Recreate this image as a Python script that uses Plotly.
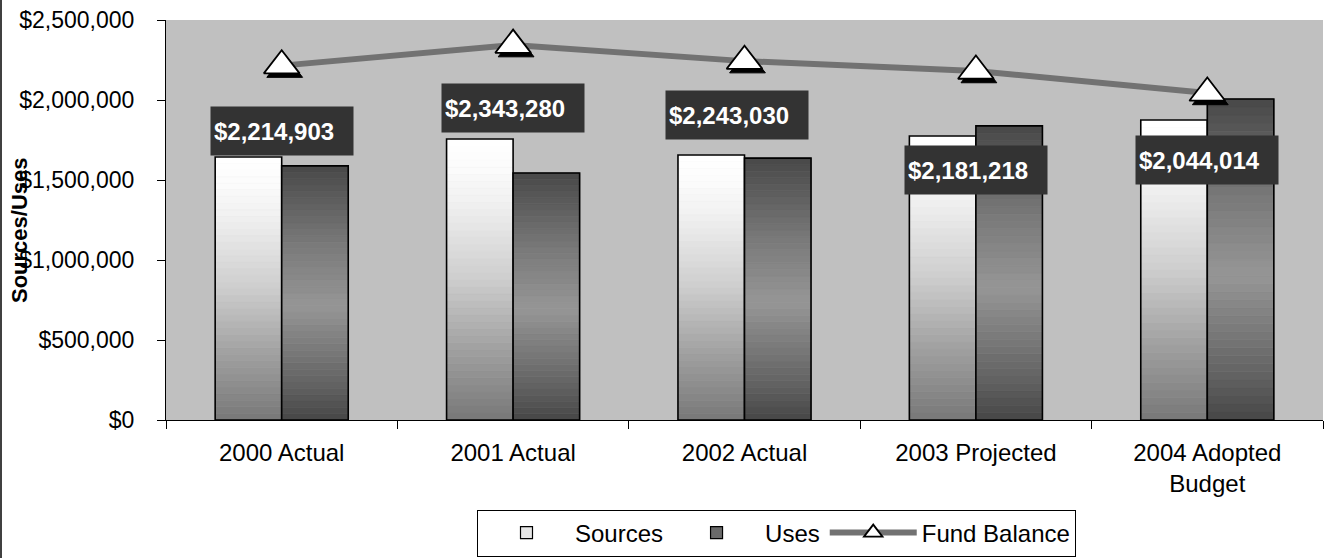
import plotly.graph_objects as go

# ---- data -------------------------------------------------------------
categories = ["2000 Actual", "2001 Actual", "2002 Actual", "2003 Projected", "2004 Adopted<br>Budget"]
sources = [1644000, 1756000, 1656000, 1775000, 1875000]
uses = [1588000, 1544000, 1637000, 1838000, 2006000]
fund_balance = [2214903, 2343280, 2243030, 2181218, 2044014]

# vertical pixel offset of each fund-balance label box below its marker
label_dy = [-65, -63, -54, -99, -67]
label_dx = [0, 0, -8, 0, 0]

FONT = "Liberation Sans, Arial, sans-serif"
N_SEG = 40
Y_MAX = 2500000

L, R, T, B = 166, 2, 20, 138
PW, PH = 1325 - L - R, 558 - T - B

# gradient stops (fraction of bar height from the bottom, grey level)
src_stops = [(0.0, 120), (0.25, 160), (0.5, 205), (0.75, 238), (0.9, 252), (1.0, 255)]
use_stops = [(0.0, 70), (0.12, 95), (0.45, 150), (0.7, 120), (1.0, 72)]


def grey_at(stops, f):
    for (f0, g0), (f1, g1) in zip(stops[:-1], stops[1:]):
        if f0 <= f <= f1:
            t = (f - f0) / (f1 - f0) if f1 > f0 else 0
            g = round(g0 + (g1 - g0) * t)
            return f"rgb({g},{g},{g})"
    g = stops[-1][1]
    return f"rgb({g},{g},{g})"


fig = go.Figure()


def gradient_bars(values, stops, group):
    # stack thin slices of each bar, each slice shaded by its height fraction
    for i in range(N_SEG):
        f = (i + 0.5) / N_SEG
        col = grey_at(stops, f)
        fig.add_trace(go.Bar(
            x=categories,
            y=[v / N_SEG for v in values],
            base=[v * i / N_SEG for v in values],
            offsetgroup=group,
            marker=dict(color=col, line=dict(color=col, width=0.6)),
            showlegend=False,
            hoverinfo="skip",
        ))
    # black outline of the full bar
    fig.add_trace(go.Bar(
        x=categories,
        y=values,
        offsetgroup=group,
        marker=dict(color="rgba(0,0,0,0)", line=dict(color="black", width=1.6)),
        showlegend=False,
        hoverinfo="skip",
    ))


gradient_bars(sources, src_stops, "a_sources")
gradient_bars(uses, use_stops, "b_uses")

# legend entries for the two bar series
fig.add_trace(go.Bar(
    x=categories, y=[None] * len(categories), offsetgroup="a_sources",
    name="Sources", marker=dict(color="#e6e6e6", line=dict(color="black", width=1.2)),
))
fig.add_trace(go.Bar(
    x=categories, y=[None] * len(categories), offsetgroup="b_uses",
    name="Uses", marker=dict(color="#6a6a6a", line=dict(color="black", width=1.2)),
))

# drop shadow of the triangle markers: same points on axes nudged a few px
SHADOW_DX, SHADOW_DY = 3, 4
fig.add_trace(go.Scatter(
    x=categories, y=fund_balance, xaxis="x2", yaxis="y2",
    mode="markers", showlegend=False, hoverinfo="skip",
    marker=dict(symbol="triangle-up", size=31, color="black",
                line=dict(color="black", width=1)),
))

fig.add_trace(go.Scatter(
    x=categories,
    y=fund_balance,
    xaxis="x3", yaxis="y3",
    name="Fund Balance",
    mode="lines+markers",
    line=dict(color="#727272", width=6),
    marker=dict(symbol="triangle-up", size=31, color="white",
                line=dict(color="black", width=1.8)),
))

for cat, val, dy, dx in zip(categories, fund_balance, label_dy, label_dx):
    fig.add_annotation(
        x=cat, y=val, yshift=dy, xshift=dx,
        text=f"<b>${val:,.0f}</b>",
        showarrow=False,
        font=dict(family=FONT, size=24, color="white"),
        bgcolor="#333333",
        width=136, height=42, borderpad=3,
        align="left", valign="middle",
    )

# y-axis title, set over the tick labels
fig.add_annotation(
    xref="paper", yref="paper", x=0, y=(420 - 230) / PH, xshift=-147,
    text="<b>Sources/Uses</b>", textangle=-90, showarrow=False,
    font=dict(family=FONT, size=22, color="black"),
    xanchor="center", yanchor="middle",
)

# outer chart border on the left edge
fig.add_shape(type="line", xref="paper", yref="paper",
              x0=-(L - 1) / PW, x1=-(L - 1) / PW, y0=-B / PH, y1=1 + T / PH,
              line=dict(color="#404040", width=2))

n = len(categories)
x_range = [-0.5, n - 0.5]
cat_px = PW / n
dx_units = SHADOW_DX / cat_px
dy_units = SHADOW_DY / PH * Y_MAX

fig.update_layout(
    width=1325, height=558,
    margin=dict(l=L, r=R, t=T, b=B, autoexpand=False),
    paper_bgcolor="white",
    plot_bgcolor="#c0c0c0",
    barmode="group",
    bargap=0.425,
    bargroupgap=0,
    font=dict(family=FONT, size=23, color="black"),
    showlegend=True,
    legend=dict(
        orientation="h",
        x=(477 - L) / PW, xanchor="left",
        y=(PH - (533 - T)) / PH, yanchor="middle",
        bgcolor="white", bordercolor="black", borderwidth=1,
        font=dict(family=FONT, size=24),
        itemwidth=87, traceorder="normal",
    ),
    xaxis=dict(
        type="category", categoryarray=categories, range=x_range,
        showline=True, linecolor="black", linewidth=1,
        ticks="outside", ticklen=8, tickcolor="black", tickson="boundaries",
        ticklabelstandoff=11, tickfont=dict(size=24),
        showgrid=False, zeroline=False, automargin=False,
    ),
    yaxis=dict(
        range=[0, Y_MAX], dtick=500000,
        tickprefix="$", tickformat=",d",
        showline=True, linecolor="black", linewidth=1,
        ticks="outside", ticklen=8, tickcolor="black",
        ticklabelstandoff=18,
        showgrid=False, zeroline=False, automargin=False,
    ),
    xaxis2=dict(type="category", categoryarray=categories, overlaying="x",
                range=[x_range[0] - dx_units, x_range[1] - dx_units], visible=False),
    yaxis2=dict(overlaying="y", range=[dy_units, Y_MAX + dy_units], visible=False),
    xaxis3=dict(type="category", categoryarray=categories, overlaying="x",
                range=x_range, visible=False),
    yaxis3=dict(overlaying="y", range=[0, Y_MAX], visible=False),
)

fig.write_html("out.html")
